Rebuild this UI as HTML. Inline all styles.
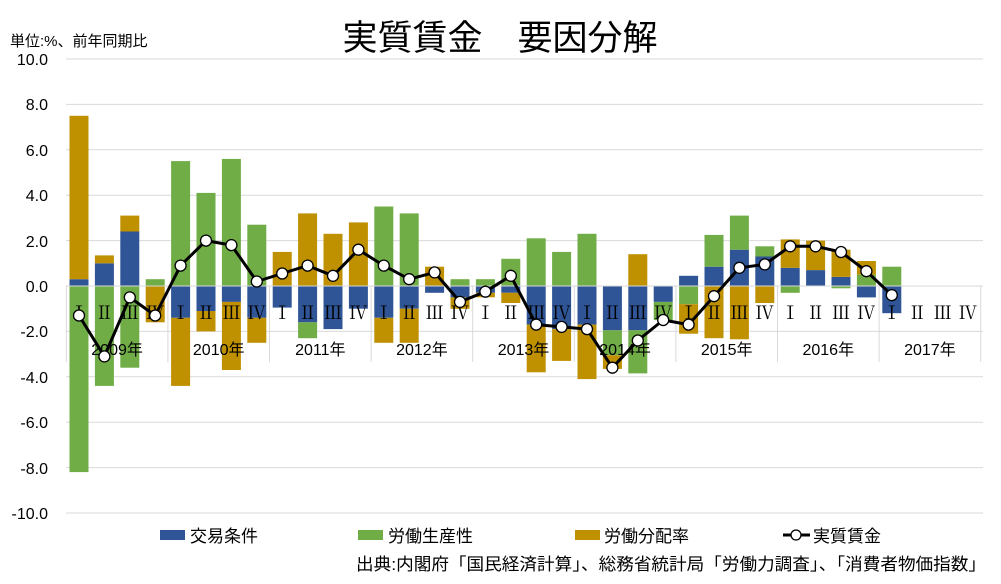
<!DOCTYPE html>
<html><head><meta charset="utf-8"><style>
body{margin:0;background:#fff}
svg text{font-family:"Liberation Sans","Noto Sans CJK JP",sans-serif}
.r{font-family:"Noto Serif CJK SC","Liberation Serif",serif;font-size:18px}
</style></head><body>
<svg width="1001" height="579" viewBox="0 0 1001 579" xmlns="http://www.w3.org/2000/svg">
<rect width="1001" height="579" fill="#fff"/>
<text x="500" y="50" font-size="35" text-anchor="middle">実質賃金　要因分解</text>
<text x="10" y="46" font-size="15">単位:%、前年同期比</text>
<g stroke="#d9d9d9" stroke-width="1">
<line x1="66" x2="983" y1="59" y2="59"/><line x1="66" x2="983" y1="104.4" y2="104.4"/><line x1="66" x2="983" y1="149.8" y2="149.8"/><line x1="66" x2="983" y1="195.2" y2="195.2"/><line x1="66" x2="983" y1="240.6" y2="240.6"/><line x1="66" x2="983" y1="331.4" y2="331.4"/><line x1="66" x2="983" y1="376.8" y2="376.8"/><line x1="66" x2="983" y1="422.2" y2="422.2"/><line x1="66" x2="983" y1="467.6" y2="467.6"/><line x1="66" x2="983" y1="513" y2="513"/>
</g>
<g font-size="16" text-anchor="end">
<text x="48" y="65">10.0</text><text x="48" y="110">8.0</text><text x="48" y="156">6.0</text><text x="48" y="201">4.0</text><text x="48" y="247">2.0</text><text x="48" y="292">0.0</text><text x="48" y="337">-2.0</text><text x="48" y="383">-4.0</text><text x="48" y="428">-6.0</text><text x="48" y="474">-8.0</text><text x="48" y="519">-10.0</text>
</g>
<g fill="#2f5597">
<rect x="69.5" y="279.2" width="19" height="6.8"/><rect x="94.9" y="263.3" width="19" height="22.7"/><rect x="120.3" y="231.5" width="19" height="54.5"/>
<rect x="171.1" y="286" width="19" height="31.8"/><rect x="196.5" y="286" width="19" height="25"/><rect x="221.9" y="286" width="19" height="15.9"/><rect x="247.3" y="286" width="19" height="31.8"/>
<rect x="272.7" y="286" width="19" height="21.6"/><rect x="298.1" y="286" width="19" height="36.3"/><rect x="323.5" y="286" width="19" height="43.1"/><rect x="348.9" y="286" width="19" height="22.7"/>
<rect x="374.3" y="286" width="19" height="31.8"/><rect x="399.7" y="286" width="19" height="22.7"/><rect x="425.1" y="286" width="19" height="6.8"/><rect x="450.5" y="286" width="19" height="11.4"/>
<rect x="475.9" y="286" width="19" height="6.8"/><rect x="501.3" y="286" width="19" height="6.8"/><rect x="526.7" y="286" width="19" height="38.6"/><rect x="552.1" y="286" width="19" height="43.1"/>
<rect x="577.5" y="286" width="19" height="38.6"/><rect x="602.9" y="286" width="19" height="44.3"/><rect x="628.3" y="286" width="19" height="44.3"/><rect x="653.7" y="286" width="19" height="15.9"/>
<rect x="679.1" y="275.8" width="19" height="10.2"/><rect x="704.5" y="266.7" width="19" height="19.3"/><rect x="729.9" y="249.7" width="19" height="36.3"/><rect x="755.3" y="256.5" width="19" height="29.5"/>
<rect x="780.7" y="267.8" width="19" height="18.2"/><rect x="806.1" y="270.1" width="19" height="15.9"/><rect x="831.5" y="276.9" width="19" height="9.1"/><rect x="856.9" y="286" width="19" height="11.4"/>
<rect x="882.3" y="286" width="19" height="27.2"/>
</g>
<g fill="#70ad47">
<rect x="69.5" y="286" width="19" height="186.1"/><rect x="94.9" y="286" width="19" height="99.9"/><rect x="120.3" y="286" width="19" height="81.7"/><rect x="145.7" y="279.2" width="19" height="6.8"/>
<rect x="171.1" y="161.1" width="19" height="124.9"/><rect x="196.5" y="192.9" width="19" height="93.1"/><rect x="221.9" y="158.9" width="19" height="127.1"/><rect x="247.3" y="224.7" width="19" height="61.3"/>
<rect x="298.1" y="322.3" width="19" height="15.9"/>
<rect x="374.3" y="206.5" width="19" height="79.5"/><rect x="399.7" y="213.4" width="19" height="72.6"/><rect x="450.5" y="279.2" width="19" height="6.8"/>
<rect x="475.9" y="279.2" width="19" height="6.8"/><rect x="501.3" y="258.8" width="19" height="27.2"/><rect x="526.7" y="238.3" width="19" height="47.7"/><rect x="552.1" y="251.9" width="19" height="34.1"/>
<rect x="577.5" y="233.8" width="19" height="52.2"/><rect x="602.9" y="330.3" width="19" height="25"/><rect x="628.3" y="330.3" width="19" height="43.1"/><rect x="653.7" y="301.9" width="19" height="18.2"/>
<rect x="679.1" y="286" width="19" height="18.2"/><rect x="704.5" y="234.9" width="19" height="31.8"/><rect x="729.9" y="215.6" width="19" height="34.1"/><rect x="755.3" y="246.3" width="19" height="10.2"/>
<rect x="780.7" y="286" width="19" height="6.8"/><rect x="831.5" y="286" width="19" height="2.3"/><rect x="856.9" y="274.6" width="19" height="11.4"/>
<rect x="882.3" y="266.7" width="19" height="19.3"/>
</g>
<g fill="#bf9000">
<rect x="69.5" y="115.8" width="19" height="163.4"/><rect x="94.9" y="255.4" width="19" height="7.9"/><rect x="120.3" y="215.6" width="19" height="15.9"/><rect x="145.7" y="286" width="19" height="36.3"/>
<rect x="171.1" y="317.8" width="19" height="68.1"/><rect x="196.5" y="311" width="19" height="20.4"/><rect x="221.9" y="301.9" width="19" height="68.1"/><rect x="247.3" y="317.8" width="19" height="25"/>
<rect x="272.7" y="251.9" width="19" height="34.1"/><rect x="298.1" y="213.4" width="19" height="72.6"/><rect x="323.5" y="233.8" width="19" height="52.2"/><rect x="348.9" y="222.4" width="19" height="63.6"/>
<rect x="374.3" y="317.8" width="19" height="25"/><rect x="399.7" y="308.7" width="19" height="34.1"/><rect x="425.1" y="266.7" width="19" height="19.3"/><rect x="450.5" y="297.4" width="19" height="11.4"/>
<rect x="475.9" y="292.8" width="19" height="4.5"/><rect x="501.3" y="292.8" width="19" height="10.2"/><rect x="526.7" y="324.6" width="19" height="47.7"/><rect x="552.1" y="329.1" width="19" height="31.8"/>
<rect x="577.5" y="324.6" width="19" height="54.5"/><rect x="602.9" y="355.3" width="19" height="13.6"/><rect x="628.3" y="254.2" width="19" height="31.8"/>
<rect x="679.1" y="304.2" width="19" height="29.5"/><rect x="704.5" y="286" width="19" height="52.2"/><rect x="729.9" y="286" width="19" height="53.3"/><rect x="755.3" y="286" width="19" height="17"/>
<rect x="780.7" y="239.4" width="19" height="28.4"/><rect x="806.1" y="240.6" width="19" height="29.5"/><rect x="831.5" y="249.7" width="19" height="27.2"/><rect x="856.9" y="261" width="19" height="13.6"/>
</g>
<line x1="66" x2="983" y1="286" y2="286" stroke="#d9d9d9"/>
<g stroke="#d9d9d9">
<line x1="66.3" x2="66.3" y1="286" y2="362"/><line x1="167.9" x2="167.9" y1="286" y2="362"/><line x1="269.5" x2="269.5" y1="286" y2="362"/><line x1="371.1" x2="371.1" y1="286" y2="362"/><line x1="472.7" x2="472.7" y1="286" y2="362"/><line x1="574.3" x2="574.3" y1="286" y2="362"/><line x1="675.9" x2="675.9" y1="286" y2="362"/><line x1="777.5" x2="777.5" y1="286" y2="362"/><line x1="879.1" x2="879.1" y1="286" y2="362"/><line x1="980.7" x2="980.7" y1="286" y2="362"/>
</g>
<g class="r" text-anchor="middle">
<text x="79" y="319" class="r">Ⅰ</text><text x="104.4" y="319" class="r">Ⅱ</text><text x="129.8" y="319" class="r">Ⅲ</text><text x="155.2" y="319" class="r">Ⅳ</text>
<text x="180.6" y="319" class="r">Ⅰ</text><text x="206" y="319" class="r">Ⅱ</text><text x="231.4" y="319" class="r">Ⅲ</text><text x="256.8" y="319" class="r">Ⅳ</text>
<text x="282.2" y="319" class="r">Ⅰ</text><text x="307.6" y="319" class="r">Ⅱ</text><text x="333" y="319" class="r">Ⅲ</text><text x="358.4" y="319" class="r">Ⅳ</text>
<text x="383.8" y="319" class="r">Ⅰ</text><text x="409.2" y="319" class="r">Ⅱ</text><text x="434.6" y="319" class="r">Ⅲ</text><text x="460" y="319" class="r">Ⅳ</text>
<text x="485.4" y="319" class="r">Ⅰ</text><text x="510.8" y="319" class="r">Ⅱ</text><text x="536.2" y="319" class="r">Ⅲ</text><text x="561.6" y="319" class="r">Ⅳ</text>
<text x="587" y="319" class="r">Ⅰ</text><text x="612.4" y="319" class="r">Ⅱ</text><text x="637.8" y="319" class="r">Ⅲ</text><text x="663.2" y="319" class="r">Ⅳ</text>
<text x="688.6" y="319" class="r">Ⅰ</text><text x="714" y="319" class="r">Ⅱ</text><text x="739.4" y="319" class="r">Ⅲ</text><text x="764.8" y="319" class="r">Ⅳ</text>
<text x="790.2" y="319" class="r">Ⅰ</text><text x="815.6" y="319" class="r">Ⅱ</text><text x="841" y="319" class="r">Ⅲ</text><text x="866.4" y="319" class="r">Ⅳ</text>
<text x="891.8" y="319" class="r">Ⅰ</text><text x="917.2" y="319" class="r">Ⅱ</text><text x="942.6" y="319" class="r">Ⅲ</text><text x="968" y="319" class="r">Ⅳ</text>
</g>
<g font-size="16" text-anchor="middle">
<text x="117.1" y="355">2009年</text><text x="218.7" y="355">2010年</text><text x="320.3" y="355">2011年</text><text x="421.9" y="355">2012年</text><text x="523.5" y="355">2013年</text><text x="625.1" y="355">2014年</text><text x="726.7" y="355">2015年</text><text x="828.3" y="355">2016年</text><text x="929.9" y="355">2017年</text>
</g>
<polyline fill="none" stroke="#000" stroke-width="3" stroke-linejoin="round" points="79,315.5 104.4,356.4 129.8,297.4 155.2,315.5 180.6,265.6 206,240.6 231.4,245.1 256.8,281.5 282.2,273.5 307.6,265.6 333,275.8 358.4,249.7 383.8,265.6 409.2,279.2 434.6,272.4 460,301.9 485.4,291.7 510.8,275.8 536.2,324.6 561.6,326.9 587,329.1 612.4,367.7 637.8,340.5 663.2,320 688.6,324.6 714,296.2 739.4,267.8 764.8,264.4 790.2,246.3 815.6,246.3 841,252 866.4,271.2 891.8,295.1"/>
<g fill="#fff" stroke="#000" stroke-width="1.3">
<circle cx="79" cy="315.5" r="5.5"/><circle cx="104.4" cy="356.4" r="5.5"/><circle cx="129.8" cy="297.4" r="5.5"/><circle cx="155.2" cy="315.5" r="5.5"/><circle cx="180.6" cy="265.6" r="5.5"/><circle cx="206" cy="240.6" r="5.5"/><circle cx="231.4" cy="245.1" r="5.5"/><circle cx="256.8" cy="281.5" r="5.5"/><circle cx="282.2" cy="273.5" r="5.5"/><circle cx="307.6" cy="265.6" r="5.5"/><circle cx="333" cy="275.8" r="5.5"/><circle cx="358.4" cy="249.7" r="5.5"/><circle cx="383.8" cy="265.6" r="5.5"/><circle cx="409.2" cy="279.2" r="5.5"/><circle cx="434.6" cy="272.4" r="5.5"/><circle cx="460" cy="301.9" r="5.5"/><circle cx="485.4" cy="291.7" r="5.5"/><circle cx="510.8" cy="275.8" r="5.5"/><circle cx="536.2" cy="324.6" r="5.5"/><circle cx="561.6" cy="326.9" r="5.5"/><circle cx="587" cy="329.1" r="5.5"/><circle cx="612.4" cy="367.7" r="5.5"/><circle cx="637.8" cy="340.5" r="5.5"/><circle cx="663.2" cy="320" r="5.5"/><circle cx="688.6" cy="324.6" r="5.5"/><circle cx="714" cy="296.2" r="5.5"/><circle cx="739.4" cy="267.8" r="5.5"/><circle cx="764.8" cy="264.4" r="5.5"/><circle cx="790.2" cy="246.3" r="5.5"/><circle cx="815.6" cy="246.3" r="5.5"/><circle cx="841" cy="252" r="5.5"/><circle cx="866.4" cy="271.2" r="5.5"/><circle cx="891.8" cy="295.1" r="5.5"/>
</g>
<g font-size="17">
<rect x="160" y="530" width="25" height="10" fill="#2f5597"/><text x="190" y="542">交易条件</text>
<rect x="358" y="530" width="25" height="10" fill="#70ad47"/><text x="388" y="542">労働生産性</text>
<rect x="575" y="530" width="25" height="10" fill="#bf9000"/><text x="604" y="542">労働分配率</text>
<line x1="783" x2="810" y1="535" y2="535" stroke="#000" stroke-width="3"/><circle cx="796" cy="535" r="5" fill="#fff" stroke="#000" stroke-width="1.3"/><text x="813" y="542">実質賃金</text>
<text x="356" y="570" textLength="630" lengthAdjust="spacingAndGlyphs">出典:内閣府「国民経済計算」、総務省統計局「労働力調査」、「消費者物価指数」</text>
</g>
</svg>
</body></html>
